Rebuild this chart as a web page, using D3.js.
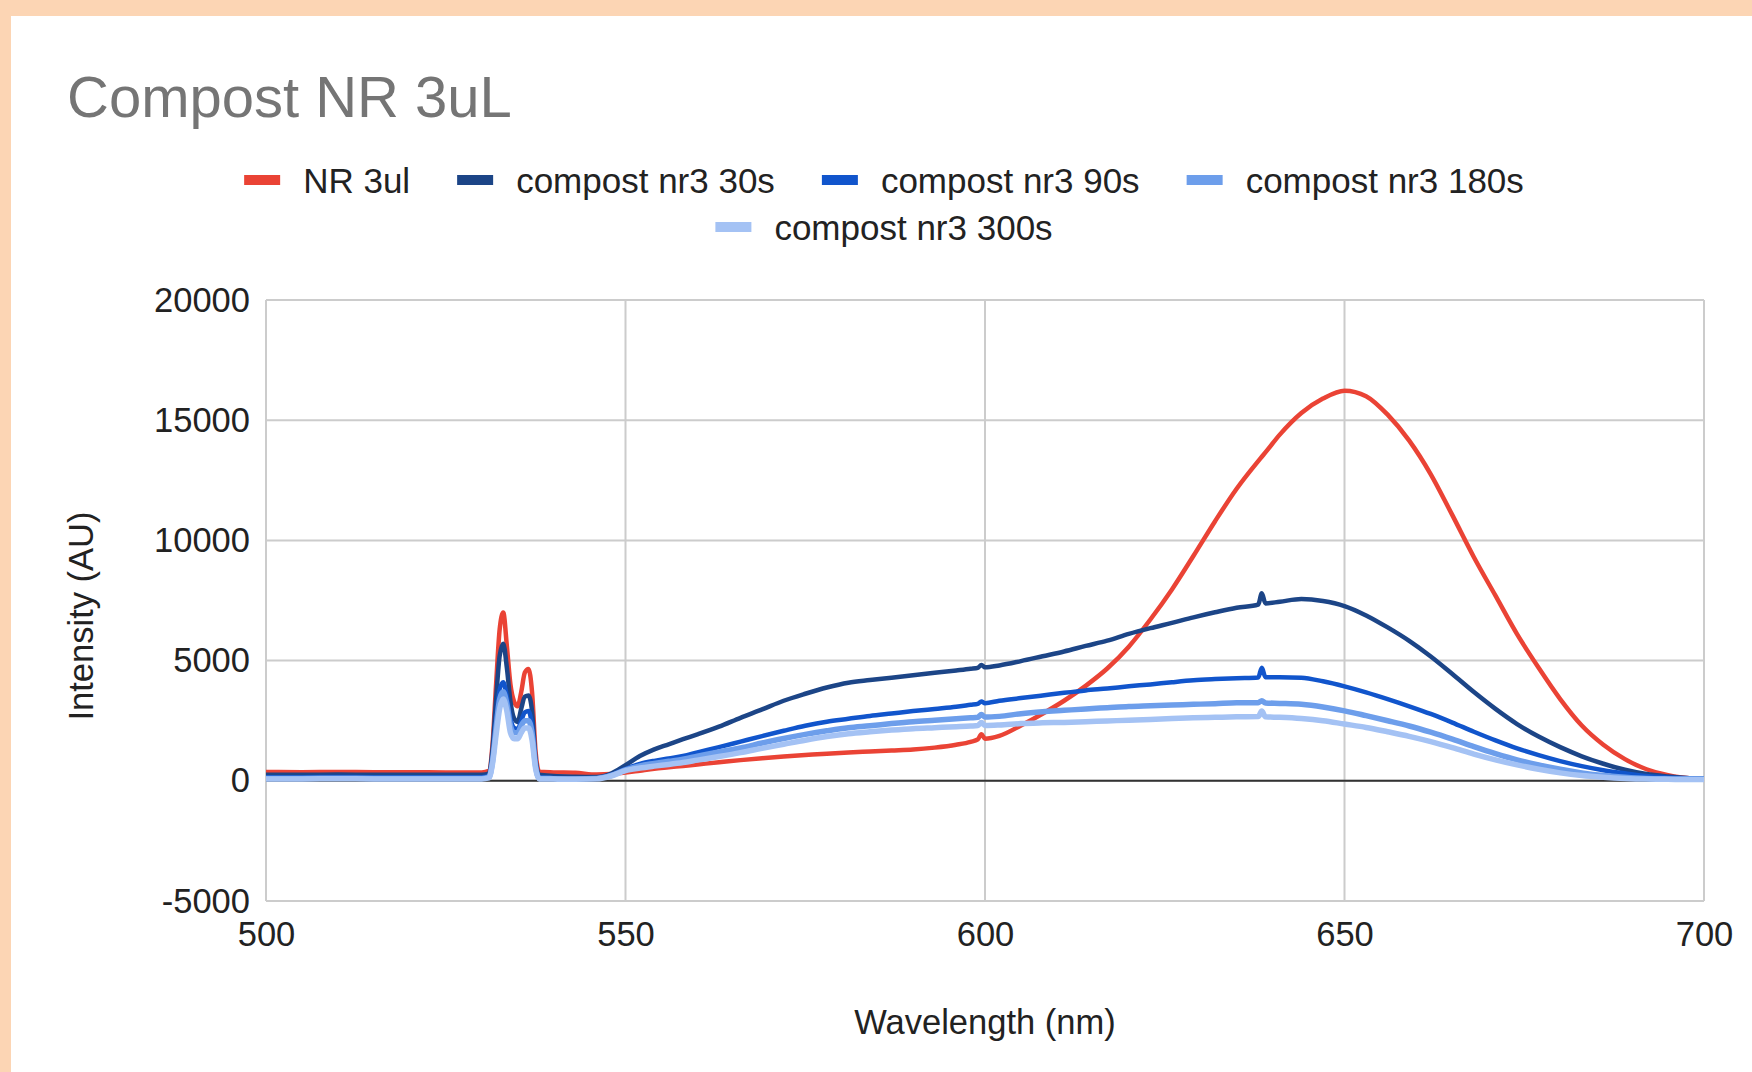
<!DOCTYPE html>
<html lang="en">
<head>
    <meta charset="utf-8">
    <title>Compost NR 3uL</title>
    <script type="text/javascript" src="https://cdn.jsdelivr.net/npm/d3@7"></script>
    <style type="text/css">
        body { margin: 0; background: #fcd5b4; }
        svg { display: block; font-family: "Liberation Sans", Arial, sans-serif; }
    </style>
</head>
<body>
    <script type="text/javascript">
        // Wavelength (nm) sample points
        var wavelength = [
            500, 505, 510, 515, 520, 525, 530, 531, 531.5, 532, 532.5, 533, 533.5, 534, 534.5, 535, 535.5, 536, 536.5, 537, 537.5, 538, 540, 543, 546, 548,
            550, 552, 554, 556, 558, 560, 563, 566, 569, 572, 575, 578, 581, 584, 587, 590, 593, 596, 598, 599, 599.5, 600,
            602, 605, 608, 611, 614, 617, 620, 623, 626, 629, 632, 635, 638, 638.5, 639, 641, 644, 647, 650,
            653, 656, 659, 662, 665, 668, 671, 674, 677, 680, 683, 686, 689, 692, 695, 698, 700
        ];

        var nr3ul = [
            370, 360, 370, 360, 360, 350, 350, 420, 1500, 4000, 6300, 7000, 5600, 4000, 3300, 3100, 3700, 4500, 4650, 3700, 1200, 380, 350, 330, 260, 280,
            340, 420, 500, 560, 620, 680, 770, 860, 940, 1010, 1070, 1130, 1180, 1220, 1260, 1300, 1380, 1500, 1620, 1720, 1940, 1750,
            1870, 2300, 2790, 3330, 3950, 4670, 5580, 6710, 7960, 9360, 10800, 12150, 13300, 13480, 13660, 14400, 15300, 15900, 16230,
            16000, 15230, 14150, 12750, 11050, 9300, 7700, 6100, 4700, 3400, 2300, 1500, 900, 480, 230, 110, 100
        ];

        var compost30 = [
            250, 250, 260, 250, 250, 250, 250, 300, 1300, 3400, 5200, 5700, 4700, 3300, 2600, 2450, 3000, 3500, 3550, 2900, 900, 250, 200, 170, 160, 300,
            650, 1030, 1310, 1520, 1730, 1930, 2250, 2620, 2970, 3330, 3620, 3880, 4080, 4190, 4290, 4390, 4490, 4590, 4660, 4700, 4820, 4720,
            4800, 4980, 5180, 5380, 5610, 5830, 6110, 6350, 6570, 6800, 7010, 7200, 7330, 7800, 7380, 7450, 7560, 7480, 7270,
            6880, 6380, 5820, 5170, 4440, 3690, 2990, 2360, 1840, 1400, 1020, 710, 460, 280, 180, 110, 100
        ];

        var compost90 = [
            150, 150, 160, 150, 150, 150, 150, 200, 900, 2500, 3800, 4100, 3500, 2600, 2200, 2150, 2500, 2850, 2900, 2300, 700, 150, 120, 100, 110, 250,
            500, 700, 830, 930, 1030, 1180, 1400, 1630, 1860, 2080, 2290, 2460, 2580, 2700, 2800, 2900, 2990, 3080, 3160, 3200, 3300, 3230,
            3330, 3440, 3550, 3660, 3760, 3840, 3930, 4010, 4100, 4180, 4230, 4270, 4300, 4700, 4310, 4310, 4290, 4140, 3930,
            3680, 3400, 3100, 2780, 2420, 2040, 1680, 1350, 1070, 820, 610, 440, 310, 200, 140, 110, 100
        ];

        var compost180 = [
            100, 100, 110, 100, 100, 100, 100, 150, 800, 2200, 3400, 3700, 3200, 2300, 2000, 2000, 2300, 2500, 2500, 2000, 600, 100, 90, 80, 100, 220,
            450, 620, 720, 810, 900, 1020, 1200, 1370, 1570, 1760, 1930, 2080, 2210, 2290, 2380, 2460, 2520, 2580, 2620, 2640, 2760, 2650,
            2680, 2790, 2870, 2930, 2990, 3040, 3090, 3120, 3150, 3180, 3210, 3250, 3250, 3330, 3240, 3220, 3180, 3070, 2910,
            2710, 2500, 2280, 2020, 1730, 1420, 1130, 870, 660, 480, 330, 220, 150, 100, 80, 70, 70
        ];

        var compost300 = [
            80, 80, 90, 80, 80, 80, 80, 120, 700, 1900, 3000, 3400, 2900, 2000, 1750, 1750, 2000, 2200, 2200, 1700, 500, 80, 70, 60, 80, 200,
            420, 530, 610, 680, 760, 860, 1010, 1170, 1350, 1520, 1690, 1840, 1960, 2040, 2110, 2170, 2210, 2250, 2280, 2300, 2420, 2300,
            2320, 2380, 2410, 2430, 2460, 2490, 2520, 2550, 2590, 2620, 2640, 2660, 2670, 2900, 2660, 2640, 2590, 2500, 2360,
            2220, 2040, 1850, 1630, 1380, 1110, 870, 660, 480, 330, 220, 150, 100, 70, 60, 50, 50
        ];

        var seriesNames = ["NR 3ul", "compost nr3 30s", "compost nr3 90s", "compost nr3 180s", "compost nr3 300s"];
        var seriesColors = ["#ea4335", "#1c4587", "#1155cc", "#6d9eeb", "#a4c2f4"];
        var xTicks = [500, 550, 600, 650, 700];
        var yTicks = [-5000, 0, 5000, 10000, 15000, 20000];

        // Width and height
        var w = 1752;
        var h = 1072;
        var margin = { left: 266, right: 48, top: 300, bottom: 171 };

        var svg = d3.select("body")
            .append("svg")
            .attr("width", w)
            .attr("height", h);

        // peach frame, white card
        svg.append("rect").attr("width", w).attr("height", h).attr("fill", "#fcd5b4");
        svg.append("rect").attr("x", 11).attr("y", 16).attr("width", w - 11).attr("height", h - 16).attr("fill", "#ffffff");

        var x = d3.scaleLinear()
            .domain([500, 700])
            .range([margin.left, w - margin.right]);

        var y = d3.scaleLinear()
            .domain([-5000, 20000])
            .range([h - margin.bottom, margin.top]);

        // Gridlines
        svg.append("g")
            .selectAll("line")
            .data(yTicks)
            .enter()
            .append("line")
            .attr("x1", x(500)).attr("x2", x(700))
            .attr("y1", function(d) { return y(d); })
            .attr("y2", function(d) { return y(d); })
            .style("stroke", "#cccccc").style("stroke-width", 2);

        svg.append("g")
            .selectAll("line")
            .data(xTicks)
            .enter()
            .append("line")
            .attr("y1", y(-5000)).attr("y2", y(20000))
            .attr("x1", function(d) { return x(d); })
            .attr("x2", function(d) { return x(d); })
            .style("stroke", "#cccccc").style("stroke-width", 2);

        // Zero baseline
        svg.append("line")
            .attr("x1", x(500)).attr("x2", x(700))
            .attr("y1", y(0)).attr("y2", y(0))
            .style("stroke", "#333333").style("stroke-width", 2);

        // Axes (labels only, lines come from the grid)
        var plain = function(d) { return String(d); };
        var yAxis = svg.append("g")
            .attr("transform", "translate(" + (margin.left - 16) + ",0)")
            .call(d3.axisLeft(y).tickValues(yTicks).tickSize(0).tickFormat(plain));
        var xAxis = svg.append("g")
            .attr("transform", "translate(0," + (h - margin.bottom + 17) + ")")
            .call(d3.axisBottom(x).tickValues(xTicks).tickSize(0).tickFormat(plain));
        [yAxis, xAxis].forEach(function(a) {
            a.select(".domain").remove();
            a.selectAll("text")
                .style("font-family", "Liberation Sans, Arial, sans-serif")
                .style("font-size", "34.5px")
                .style("fill", "#222222");
        });
        yAxis.selectAll("text").attr("x", 0);

        // Lines
        var line = d3.line()
            .x(function(d) { return x(d[0]); })
            .y(function(d) { return y(d[1]); })
            .curve(d3.curveMonotoneX);

        var allSeries = [nr3ul, compost30, compost90, compost180, compost300];
        var widths = [4.5, 4.5, 4.5, 5.5, 5.5];

        svg.append("g")
            .selectAll("path")
            .data(allSeries)
            .enter()
            .append("path")
            .attr("d", function(vals) {
                return line(vals.map(function(v, i) { return [wavelength[i], v]; }));
            })
            .style("fill", "none")
            .style("stroke", function(d, i) { return seriesColors[i]; })
            .style("stroke-width", function(d, i) { return widths[i]; })
            .style("stroke-linejoin", "round");

        // Title
        svg.append("text")
            .attr("x", 67)
            .attr("y", 117)
            .style("font-size", "58px")
            .style("fill", "#757575")
            .text("Compost NR 3uL");

        // Axis titles
        svg.append("text")
            .attr("x", (x(500) + x(700)) / 2)
            .attr("y", 1034)
            .attr("text-anchor", "middle")
            .style("font-size", "34.5px")
            .style("fill", "#222222")
            .text("Wavelength (nm)");

        svg.append("text")
            .attr("transform", "translate(93,616) rotate(-90)")
            .attr("text-anchor", "middle")
            .style("font-size", "34.5px")
            .style("fill", "#222222")
            .text("Intensity (AU)");

        // Legend, two centred rows
        var legendRows = [[0, 1, 2, 3], [4]];
        var rowY = [180, 227];
        var legendCenter = 884;
        legendRows.forEach(function(row, r) {
            var g = svg.append("g");
            var cursor = 0;
            row.forEach(function(k, j) {
                if (j > 0) cursor += 47;
                g.append("rect")
                    .attr("x", cursor).attr("y", rowY[r] - 5)
                    .attr("width", 36).attr("height", 10)
                    .attr("fill", seriesColors[k]);
                var t = g.append("text")
                    .attr("x", cursor + 59)
                    .attr("y", rowY[r])
                    .attr("dy", "0.36em")
                    .style("font-size", "35px")
                    .style("fill", "#222222")
                    .text(seriesNames[k]);
                cursor += 59 + t.node().getComputedTextLength();
            });
            g.attr("transform", "translate(" + (legendCenter - cursor / 2) + ",0)");
        });
    </script>
</body>
</html>
